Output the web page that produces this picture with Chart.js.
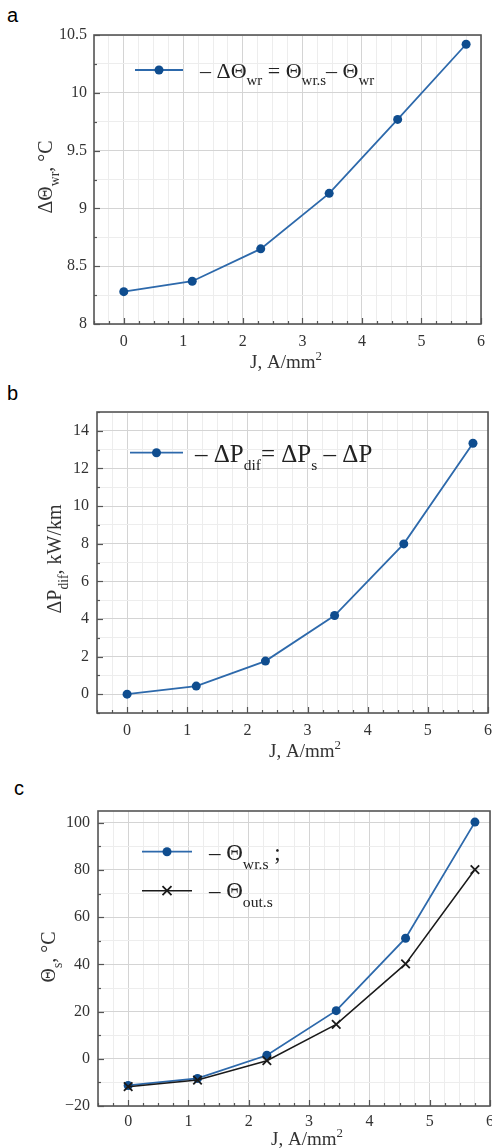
<!DOCTYPE html>
<html>
<head>
<meta charset="utf-8">
<script src="https://cdn.jsdelivr.net/npm/chart.js@4.4.0/dist/chart.umd.min.js"></script>
<style>
  html, body { margin: 0; padding: 0; background: #fff; overflow: hidden; width: 492px; height: 1148px; }
  canvas { position: absolute; left: 0; }
  .tag { position: absolute; font-family: "Liberation Sans", Arial, sans-serif; font-size: 20px; line-height: 20px; color: #000; }
</style>
</head>
<body>
<div class="tag" style="left:7px;top:5px">a</div>
<div class="tag" style="left:7px;top:383px">b</div>
<div class="tag" style="left:14px;top:778px">c</div>
<canvas id="chartA" style="top:0" width="500" height="378"></canvas>
<canvas id="chartB" style="top:378px" width="500" height="390"></canvas>
<canvas id="chartC" style="top:768px" width="500" height="380"></canvas>
<script>
// current density J, A/mm2 (same for all panels)
const jValues = [0, 1.15, 2.3, 3.45, 4.6, 5.75];
// panel a: ΔΘwr, °C
const dThetaWr = [8.28, 8.37, 8.65, 9.13, 9.77, 10.42];
// panel b: ΔPdif, kW/km
const dPdif = [0, 0.43, 1.76, 4.18, 7.99, 13.34];
// panel c: Θwr.s and Θout.s, °C
const thetaWrS = [-11.3, -8.3, 1.5, 20.4, 51.1, 100.3];
const thetaOutS = [-11.8, -9.0, -0.8, 14.6, 40.2, 80.2];

const BLUE = '#2d69ab';
const BLUE_DOT = '#0f4d8f';
const SERIF = '"Liberation Serif", "Times New Roman", serif';

function pts(ys) {
  return jValues.map((x, i) => ({ x: x, y: ys[i] }));
}

function isMajor(v, step) {
  const r = v / step;
  return Math.abs(r - Math.round(r)) < 1e-6;
}

function fmt(v) {
  const s = String(Math.round(v * 100) / 100);
  return v < 0 ? '\u2212' + s.slice(1) : s;
}

// text with sub/superscripts, drawn straight on the chart canvas
function drawRich(ctx, parts, x, y, size, opt) {
  opt = opt || {};
  ctx.save();
  ctx.translate(x, y);
  if (opt.rotate) ctx.rotate(-Math.PI / 2);
  ctx.textBaseline = 'alphabetic';
  ctx.textAlign = 'left';
  ctx.fillStyle = opt.color || '#222';
  const items = parts.map(p => {
    const kind = p[1] || '';
    const fs = kind ? size * (opt.subScale || 0.68) : size;
    ctx.font = fs + 'px ' + SERIF;
    return { t: p[0], kind: kind, fs: fs, w: ctx.measureText(p[0]).width };
  });
  const total = items.reduce((s, it) => s + it.w, 0);
  let cx = opt.align === 'center' ? -total / 2 : 0;
  items.forEach(it => {
    ctx.font = it.fs + 'px ' + SERIF;
    let dy = 0;
    if (it.kind === 'sub') dy = size * (opt.subShift || 0.35);
    if (it.kind === 'sup') dy = -size * 0.42;
    ctx.fillText(it.t, cx, dy);
    cx += it.w;
  });
  ctx.restore();
}

const framePlugin = {
  id: 'frame',
  afterDraw(chart, args, o) {
    const ctx = chart.ctx, a = chart.chartArea;
    const xs = chart.scales.x, ys = chart.scales.y;
    ctx.save();
    ctx.strokeStyle = '#555';
    ctx.lineWidth = 1.2;
    xs.ticks.forEach(t => {
      const px = Math.round(xs.getPixelForValue(t.value)) + 0.5;
      const len = isMajor(t.value, o.xMajor) ? 6 : 3;
      ctx.beginPath(); ctx.moveTo(px, a.bottom); ctx.lineTo(px, a.bottom - len); ctx.stroke();
    });
    ys.ticks.forEach(t => {
      const py = Math.round(ys.getPixelForValue(t.value)) + 0.5;
      const len = isMajor(t.value, o.yMajor) ? 6 : 3;
      ctx.beginPath(); ctx.moveTo(a.left, py); ctx.lineTo(a.left + len, py); ctx.stroke();
    });
    ctx.lineWidth = 1.6;
    ctx.strokeRect(a.left, a.top, a.right - a.left, a.bottom - a.top);

    // legend samples + labels
    (o.legend || []).forEach(l => {
      const ds = chart.data.datasets[l.ds];
      ctx.strokeStyle = ds.borderColor;
      ctx.lineWidth = ds.borderWidth;
      ctx.beginPath(); ctx.moveTo(l.x0, l.y); ctx.lineTo(l.x1, l.y); ctx.stroke();
      const mx = (l.x0 + l.x1) / 2;
      if (ds.pointStyle === 'crossRot') {
        const r = ds.pointRadius * 0.75;
        ctx.strokeStyle = ds.pointBorderColor;
        ctx.lineWidth = ds.pointBorderWidth;
        ctx.beginPath();
        ctx.moveTo(mx - r, l.y - r); ctx.lineTo(mx + r, l.y + r);
        ctx.moveTo(mx + r, l.y - r); ctx.lineTo(mx - r, l.y + r);
        ctx.stroke();
      } else {
        ctx.fillStyle = ds.pointBackgroundColor;
        ctx.beginPath(); ctx.arc(mx, l.y, ds.pointRadius, 0, Math.PI * 2); ctx.fill();
      }
      drawRich(ctx, l.parts, l.tx, l.ty, l.size, { subShift: l.subShift, subScale: l.subScale });
    });

    // axis titles
    const xt = o.xTitle, yt = o.yTitle;
    drawRich(ctx, xt.parts, xt.x, xt.y, xt.size, { align: 'center', color: '#333' });
    drawRich(ctx, yt.parts, yt.x, yt.y, yt.size, { align: 'center', rotate: true, color: '#333' });
    ctx.restore();
  }
};

function makeChart(id, c) {
  const datasets = c.series.map(s => Object.assign({
    data: pts(s.values),
    borderColor: s.color,
    borderWidth: s.lineWidth,
    pointStyle: s.marker,
    pointRadius: s.radius,
    pointHoverRadius: s.radius,
    pointBackgroundColor: s.markerColor,
    pointBorderColor: s.markerColor,
    pointBorderWidth: s.marker === 'crossRot' ? 1.8 : 0,
    tension: 0,
    order: s.order,
    fill: false
  }));
  const tickFont = { family: SERIF, size: 16 };
  return new Chart(document.getElementById(id), {
    type: 'line',
    data: { datasets: datasets },
    plugins: [framePlugin],
    options: {
      responsive: false,
      animation: false,
      events: [],
      layout: { padding: c.padding },
      plugins: {
        legend: { display: false },
        tooltip: { enabled: false },
        frame: {
          xMajor: 1,
          yMajor: c.yMajor,
          legend: c.legend,
          xTitle: c.xTitle,
          yTitle: c.yTitle
        }
      },
      scales: {
        x: {
          type: 'linear',
          min: -0.5,
          max: 6,
          afterFit: s => { s.height = c.xHeight; },
          border: { display: false },
          grid: {
            drawTicks: false,
            color: g => g.tick && isMajor(g.tick.value, 1) ? '#d4d4d4' : '#ededed',
            lineWidth: 1
          },
          ticks: {
            stepSize: 0.25,
            autoSkip: false,
            maxRotation: 0,
            includeBounds: false,
            padding: c.xPad,
            color: '#333',
            font: tickFont,
            callback: v => isMajor(v, 1) ? fmt(v) : ''
          }
        },
        y: {
          min: c.yMin,
          max: c.yMax,
          afterFit: s => { s.width = c.yWidth; },
          border: { display: false },
          grid: {
            drawTicks: false,
            color: g => g.tick && isMajor(g.tick.value, c.yMajor) ? '#d4d4d4' : '#ededed',
            lineWidth: 1
          },
          ticks: {
            stepSize: c.yMinor,
            autoSkip: false,
            includeBounds: false,
            padding: c.yPad,
            color: '#333',
            font: tickFont,
            callback: v => isMajor(v, c.yMajor) ? fmt(v) : ''
          }
        }
      }
    }
  });
}

const xTitleParts = [['J, A/mm'], ['2', 'sup']];

makeChart('chartA', {
  padding: { top: 35, right: 19, bottom: 0, left: 0 },
  yWidth: 94, xHeight: 54, xPad: 8, yPad: 7,
  yMin: 8, yMax: 10.5, yMajor: 0.5, yMinor: 0.25,
  series: [
    { values: dThetaWr, color: BLUE, lineWidth: 1.8, marker: 'circle', radius: 4.5, markerColor: BLUE_DOT, order: 1 }
  ],
  legend: [
    { ds: 0, x0: 135, x1: 183, y: 70, tx: 200, ty: 77.5, size: 22, subShift: 0.36,
      parts: [['\u2013 \u0394\u0398'], ['wr', 'sub'], [' = \u0398'], ['wr.s', 'sub'], ['\u2013 \u0398'], ['wr', 'sub']] }
  ],
  xTitle: { parts: xTitleParts, x: 286, y: 368, size: 19 },
  yTitle: { parts: [['\u0394\u0398'], ['wr', 'sub'], [', \u00b0C']], x: 52, y: 177, size: 20 }
});

makeChart('chartB', {
  padding: { top: 34, right: 12, bottom: 0, left: 0 },
  yWidth: 97, xHeight: 55, xPad: 8, yPad: 8,
  yMin: -1, yMax: 15, yMajor: 2, yMinor: 1,
  series: [
    { values: dPdif, color: BLUE, lineWidth: 1.8, marker: 'circle', radius: 4.5, markerColor: BLUE_DOT, order: 1 }
  ],
  legend: [
    { ds: 0, x0: 130, x1: 183, y: 74.7, tx: 195, ty: 83.5, size: 25, subShift: 0.32, subScale: 0.62,
      parts: [['\u2013 \u0394P'], ['dif', 'sub'], ['= \u0394P'], ['s', 'sub'], [' \u2013 \u0394P']] }
  ],
  xTitle: { parts: xTitleParts, x: 305, y: 379, size: 19 },
  yTitle: { parts: [['\u0394P'], ['dif', 'sub'], [', kW/km']], x: 61, y: 181, size: 20 }
});

makeChart('chartC', {
  padding: { top: 43, right: 9, bottom: 0, left: 0 },
  yWidth: 98, xHeight: 42, xPad: 6, yPad: 8,
  yMin: -20, yMax: 105, yMajor: 20, yMinor: 10,
  series: [
    { values: thetaWrS, color: BLUE, lineWidth: 1.8, marker: 'circle', radius: 4.5, markerColor: BLUE_DOT, order: 2 },
    { values: thetaOutS, color: '#1a1a1a', lineWidth: 1.5, marker: 'crossRot', radius: 6, markerColor: '#1a1a1a', order: 1 }
  ],
  legend: [
    { ds: 0, x0: 142, x1: 192, y: 83.7, tx: 209, ty: 92, size: 23, subShift: 0.38,
      parts: [['\u2013 \u0398'], ['wr.s', 'sub'], [' ;']] },
    { ds: 1, x0: 142, x1: 192, y: 122.7, tx: 209, ty: 130.3, size: 23, subShift: 0.38,
      parts: [['\u2013 \u0398'], ['out.s', 'sub']] }
  ],
  xTitle: { parts: xTitleParts, x: 307, y: 377, size: 19 },
  yTitle: { parts: [['\u0398'], ['s', 'sub'], [', \u00b0C']], x: 55, y: 189, size: 20 }
});
</script>
</body>
</html>
